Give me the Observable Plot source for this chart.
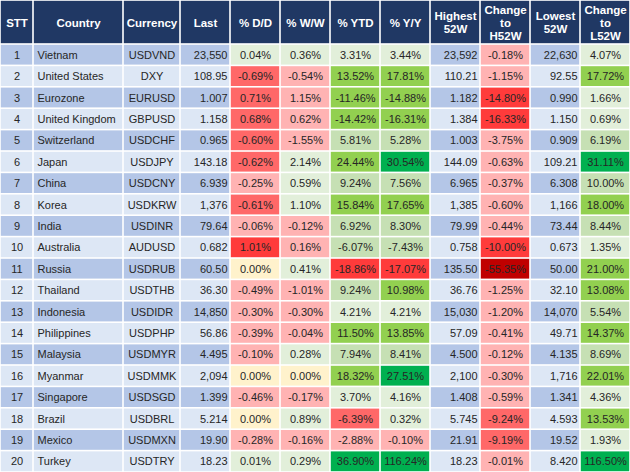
<!DOCTYPE html>
<html><head><meta charset="utf-8">
<script src="https://cdn.jsdelivr.net/npm/d3@7"></script>
<script src="https://cdn.jsdelivr.net/npm/@observablehq/plot@0.6"></script>
<style>html,body{margin:0;padding:0;background:#fff;} svg{display:block}</style>
</head><body><div id="chart"></div>
<script>
// ---- data ----
const stt = [1,2,3,4,5,6,7,8,9,10,11,12,13,14,15,16,17,18,19,20];
const countries = ["Vietnam","United States","Eurozone","United Kingdom","Switzerland","Japan","China","Korea","India","Australia","Russia","Thailand","Indonesia","Philippines","Malaysia","Myanmar","Singapore","Brazil","Mexico","Turkey"];
const currencies = ["USDVND","DXY","EURUSD","GBPUSD","USDCHF","USDJPY","USDCNY","USDKRW","USDINR","AUDUSD","USDRUB","USDTHB","USDIDR","USDPHP","USDMYR","USDMMK","USDSGD","USDBRL","USDMXN","USDTRY"];
const last = [23550,108.95,1.007,1.158,0.965,143.18,6.939,1376,79.64,0.682,60.50,36.30,14850,56.86,4.495,2094,1.399,5.214,19.90,18.23];
const dd = [0.04,-0.69,0.71,0.68,-0.60,-0.62,-0.25,-0.61,-0.06,1.01,0.00,-0.49,-0.30,-0.39,-0.10,0.00,-0.46,0.00,-0.28,0.01];
const ww = [0.36,-0.54,1.15,0.62,-1.55,2.14,0.59,1.10,-0.12,0.16,0.41,-1.01,-0.30,-0.04,0.28,0.00,-0.17,0.89,-0.16,0.29];
const ytd = [3.31,13.52,-11.46,-14.42,5.81,24.44,9.24,15.84,6.92,-6.07,-18.86,9.24,4.21,11.50,7.94,18.32,3.70,-6.39,-2.88,36.90];
const yy = [3.44,17.81,-14.88,-16.31,5.28,30.54,7.56,17.65,8.30,-7.43,-17.07,10.98,4.21,13.85,8.41,27.51,4.16,0.32,-0.10,116.24];
const high52 = [23592,110.21,1.182,1.384,1.003,144.09,6.965,1385,79.99,0.758,135.50,36.76,15030,57.09,4.500,2100,1.408,5.745,21.91,18.23];
const chgH52 = [-0.18,-1.15,-14.80,-16.33,-3.75,-0.63,-0.37,-0.60,-0.44,-10.00,-55.35,-1.25,-1.20,-0.41,-0.12,-0.30,-0.59,-9.24,-9.19,-0.01];
const low52 = [22630,92.55,0.990,1.150,0.909,109.21,6.308,1166,73.44,0.673,50.00,32.10,14070,49.71,4.135,1716,1.341,4.593,19.52,8.420];
const chgL52 = [4.07,17.72,1.66,0.69,6.19,31.11,10.00,18.00,8.44,1.35,21.00,13.08,5.54,14.37,8.69,22.01,4.36,13.53,1.93,116.50];
const headers = ["STT","Country","Currency","Last","% D/D","% W/W","% YTD","% Y/Y","Highest\n52W","Change\nto\nH52W","Lowest\n52W","Change\nto\nL52W"];

// ---- formatting helpers ----
const fmtNum = v => v >= 1000 ? d3.format(",.0f")(v) : v >= 10 ? v.toFixed(2) : v.toFixed(3);
const fmtPct = v => v.toFixed(2) + "%";
const usdSign = c => (c.startsWith("USD") || c === "DXY") ? 1 : -1;

// column layout: width units, text alignment, and colour rule
const columns = [
  {w:33, align:"middle", kind:"plain", text:i=>String(stt[i])},
  {w:90, align:"start",  kind:"plain", text:i=>countries[i]},
  {w:57, align:"middle", kind:"plain", text:i=>currencies[i]},
  {w:50, align:"end",    kind:"plain", text:i=>fmtNum(last[i])},
  {w:50, align:"middle", kind:"pct", vals:dd, k:10, signed:true},
  {w:50, align:"middle", kind:"pct", vals:ww, k:2, signed:true},
  {w:50, align:"middle", kind:"pct", vals:ytd, k:1, signed:true},
  {w:50, align:"middle", kind:"pct", vals:yy, k:1, signed:true},
  {w:50, align:"end",    kind:"plain", text:i=>fmtNum(high52[i])},
  {w:50, align:"middle", kind:"pct", vals:chgH52, k:1, signed:false},
  {w:50, align:"end",    kind:"plain", text:i=>fmtNum(low52[i])},
  {w:50, align:"middle", kind:"pct", vals:chgL52, k:1, signed:false}
];
let acc = 0;
columns.forEach((c, j) => { c.x1 = acc; acc += c.w; c.x2 = acc; c.label = headers[j]; });
const totalW = acc;

const W = 630, Hpx = 472;
const H = 2.056; // header height in row units
const nRows = countries.length;
const T = H + nRows;

const headerCells = columns.map(c => ({x1:c.x1, x2:c.x2, y1:0, y2:H, tx:(c.x1+c.x2)/2, ty:H/2, text:c.label}));

const cells = [];
for (let i = 0; i < nRows; i++) {
  columns.forEach(c => {
    const cell = {row:i, x1:c.x1, x2:c.x2, y1:H+i, y2:H+i+1, ty:H+i+0.5, align:c.align, kind:c.kind};
    cell.tx = c.align === "start" ? c.x1 + 4 : c.align === "end" ? c.x2 - 3 : (c.x1 + c.x2) / 2;
    if (c.kind === "pct") {
      const v = c.vals[i];
      cell.text = fmtPct(v);
      cell.score = (c.signed ? usdSign(currencies[i]) : 1) * v * c.k;
    } else {
      cell.text = c.text(i);
    }
    cells.push(cell);
  });
}

const plain = cells.filter(d => d.kind === "plain");
const pct = cells.filter(d => d.kind === "pct");
const textOpts = {x:"tx", y:"ty", text:"text", fontSize:11, fill:"#262626"};

const chart = Plot.plot({
  width: W, height: Hpx,
  margin: 0,
  x: {type:"linear", domain:[0, totalW], range:[0, W], axis:null},
  y: {type:"linear", domain:[0, T], range:[0, Hpx], axis:null},
  color: {type:"threshold",
          domain:[-25, -9.999, -5, -0.001, 0.001, 5, 10.001, 25],
          range:["#c00000","#ff3b3b","#ff6868","#ffb3b3","#fff2cc","#e2efda","#c6e0b4","#92d050","#00b050"]},
  style: {fontFamily:"'Liberation Sans', Arial, sans-serif", background:"#ffffff"},
  marks: [
    Plot.rect(headerCells, {x1:"x1", x2:"x2", y1:"y1", y2:"y2", fill:"#203864", inset:0.8}),
    Plot.rect(plain.filter(d => d.row % 2 === 0), {x1:"x1", x2:"x2", y1:"y1", y2:"y2", fill:"#b4c6e7", inset:0.8}),
    Plot.rect(plain.filter(d => d.row % 2 === 1), {x1:"x1", x2:"x2", y1:"y1", y2:"y2", fill:"#dde7f5", inset:0.8}),
    Plot.rect(pct, {x1:"x1", x2:"x2", y1:"y1", y2:"y2", fill:"score", inset:0.8}),
    Plot.text(headerCells, {x:"tx", y:"ty", text:"text", fontSize:11.5, fontWeight:"bold", fill:"#ffffff", lineHeight:1.15, textAnchor:"middle"}),
    Plot.text(cells.filter(d => d.align === "start"), {...textOpts, textAnchor:"start"}),
    Plot.text(cells.filter(d => d.align === "middle"), {...textOpts, textAnchor:"middle"}),
    Plot.text(cells.filter(d => d.align === "end"), {...textOpts, textAnchor:"end"})
  ]
});
document.getElementById("chart").appendChild(chart);
</script>
</body></html>
